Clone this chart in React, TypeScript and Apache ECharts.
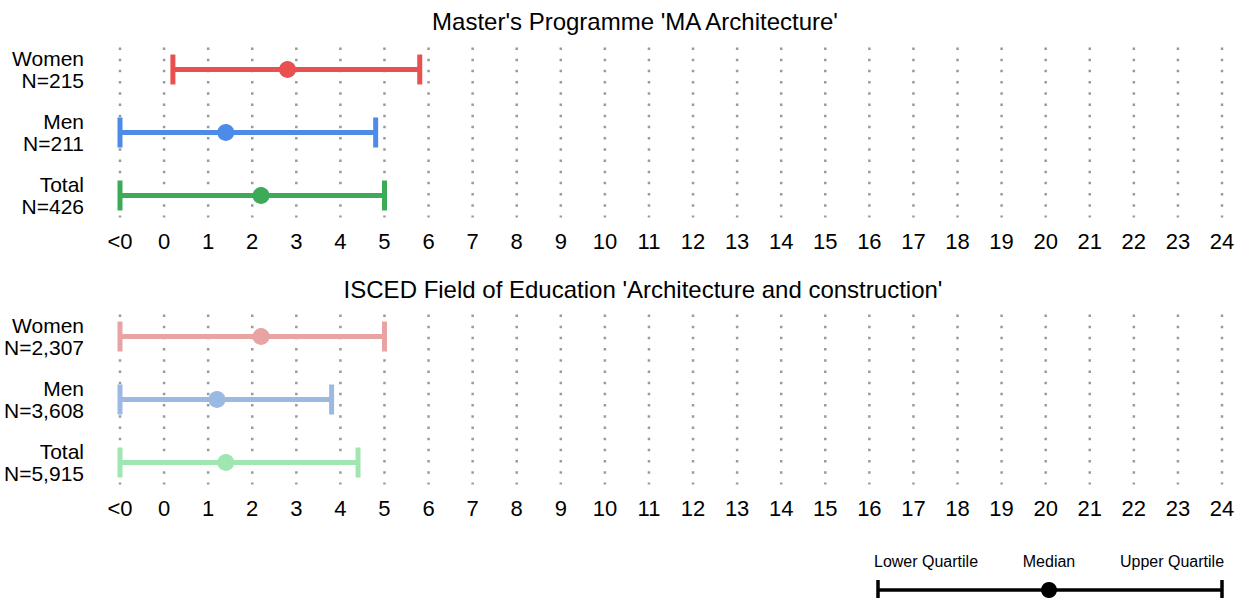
import React, { useEffect, useRef } from "react";
import * as echarts from "echarts";

const xTickValues = [-1, 0, 1, 2, 3, 4, 5, 6, 7, 8, 9, 10, 11, 12, 13, 14, 15, 16, 17, 18, 19, 20, 21, 22, 23, 24];
const xTickLabels = ["<0", "0", "1", "2", "3", "4", "5", "6", "7", "8", "9", "10", "11", "12", "13", "14", "15", "16", "17", "18", "19", "20", "21", "22", "23", "24"];

const title1 = "Master's Programme 'MA Architecture'";
const title2 = "ISCED Field of Education 'Architecture and construction'";

const groups1 = ["Women\nN=215", "Men\nN=211", "Total\nN=426"];
const lower1 = [0.2, -1, -1];
const median1 = [2.8, 1.4, 2.2];
const upper1 = [5.8, 4.8, 5.0];
const colors1 = ["#E8514F", "#4E8BE8", "#3CAA56"];

const groups2 = ["Women\nN=2,307", "Men\nN=3,608", "Total\nN=5,915"];
const lower2 = [-1, -1, -1];
const median2 = [2.2, 1.2, 1.4];
const upper2 = [5.0, 3.8, 4.4];
const colors2 = ["#E8A3A3", "#9BB9E3", "#A0E6B0"];

const legendLabels = ["Lower Quartile", "Median", "Upper Quartile"];

const FONT = "Liberation Sans, Arial, sans-serif";

function barData(lower: number[], median: number[], upper: number[], colors: string[]) {
  return lower.map((l, i) => ({ value: [i, l, median[i], upper[i]], itemStyle: { color: colors[i] } }));
}

const errorRender = (params: any, api: any) => {
  const y = api.value(0);
  const lo = api.coord([api.value(1), y]);
  const md = api.coord([api.value(2), y]);
  const hi = api.coord([api.value(3), y]);
  const color = api.visual("color");
  const capH = 15;
  return {
    type: "group",
    children: [
      { type: "line", shape: { x1: lo[0], y1: lo[1], x2: hi[0], y2: hi[1] }, style: { stroke: color, lineWidth: 5 } },
      { type: "line", shape: { x1: lo[0], y1: lo[1] - capH, x2: lo[0], y2: lo[1] + capH }, style: { stroke: color, lineWidth: 5 } },
      { type: "line", shape: { x1: hi[0], y1: hi[1] - capH, x2: hi[0], y2: hi[1] + capH }, style: { stroke: color, lineWidth: 5 } },
      { type: "circle", shape: { cx: md[0], cy: md[1], r: 8.5 }, style: { fill: color } },
    ],
  };
};

const gridRender = (params: any, api: any) => {
  const v = api.value(0);
  const p0 = api.coord([v, 0]);
  const p2 = api.coord([v, 2]);
  const ext = (p2[1] - p0[1]) * 0.175;
  return {
    type: "line",
    shape: { x1: p0[0], y1: p0[1] - ext, x2: p0[0], y2: p2[1] + ext },
    style: { stroke: "#9a9a9a", lineWidth: 2.5, lineDash: [2.5, 8.7] },
  };
};

export default function App() {
  const ref = useRef<HTMLDivElement>(null);
  useEffect(() => {
    document.body.style.margin = "0";
    const chart = echarts.init(ref.current!, null, { renderer: "svg" });
    const xAxisBase = (gridIndex: number) => ({
      type: "value",
      gridIndex,
      min: -1,
      max: 24,
      interval: 1,
      axisLine: { show: false },
      axisTick: { show: false },
      splitLine: { show: false },
      axisLabel: {
        margin: 3,
        fontSize: 22,
        color: "#000",
        fontFamily: FONT,
        formatter: (v: number) => xTickLabels[xTickValues.indexOf(Math.round(v))] ?? "",
      },
    });
    const yAxisBase = (gridIndex: number, cats: string[]) => ({
      type: "category",
      gridIndex,
      data: cats,
      inverse: true,
      axisLine: { show: false },
      axisTick: { show: false },
      splitLine: { show: false },
      axisLabel: {
        margin: 36,
        fontSize: 21,
        lineHeight: 22,
        color: "#000",
        fontFamily: FONT,
        align: "right",
      },
    });
    const lx1 = 878, lx2 = 1222, ly = 590;
    const lmid = 1049;
    const legendFont = `16px ${FONT}`;
    chart.setOption({
      animation: false,
      title: [
        { text: title1, left: 630, top: 4, textAlign: "center", textStyle: { fontSize: 24, fontWeight: "normal", color: "#000", fontFamily: FONT } },
        { text: title2, left: 638, top: 272, textAlign: "center", textStyle: { fontSize: 24, fontWeight: "normal", color: "#000", fontFamily: FONT } },
      ],
      grid: [
        { left: 120, right: 22, top: 38, height: 189 },
        { left: 120, right: 22, top: 305, height: 189 },
      ],
      xAxis: [xAxisBase(0), xAxisBase(1)],
      yAxis: [yAxisBase(0, groups1), yAxisBase(1, groups2)],
      series: [
        { type: "custom", xAxisIndex: 0, yAxisIndex: 0, data: xTickValues.map((v) => [v]), encode: { x: 0 }, renderItem: gridRender, silent: true, z: 1, clip: false },
        { type: "custom", xAxisIndex: 1, yAxisIndex: 1, data: xTickValues.map((v) => [v]), encode: { x: 0 }, renderItem: gridRender, silent: true, z: 1, clip: false },
        { type: "custom", xAxisIndex: 0, yAxisIndex: 0, data: barData(lower1, median1, upper1, colors1), encode: { x: [1, 2, 3], y: 0 }, renderItem: errorRender, z: 5, clip: false },
        { type: "custom", xAxisIndex: 1, yAxisIndex: 1, data: barData(lower2, median2, upper2, colors2), encode: { x: [1, 2, 3], y: 0 }, renderItem: errorRender, z: 5, clip: false },
      ],
      graphic: [
        { type: "text", x: 926, y: 561, style: { text: legendLabels[0], fill: "#000", font: legendFont, textAlign: "center", textVerticalAlign: "middle" } },
        { type: "text", x: lmid, y: 561, style: { text: legendLabels[1], fill: "#000", font: legendFont, textAlign: "center", textVerticalAlign: "middle" } },
        { type: "text", x: 1172, y: 561, style: { text: legendLabels[2], fill: "#000", font: legendFont, textAlign: "center", textVerticalAlign: "middle" } },
        { type: "line", shape: { x1: lx1, y1: ly, x2: lx2, y2: ly }, style: { stroke: "#000", lineWidth: 3.5 } },
        { type: "line", shape: { x1: lx1, y1: ly - 10, x2: lx1, y2: ly + 10 }, style: { stroke: "#000", lineWidth: 3.5 } },
        { type: "line", shape: { x1: lx2, y1: ly - 10, x2: lx2, y2: ly + 10 }, style: { stroke: "#000", lineWidth: 3.5 } },
        { type: "circle", shape: { cx: lmid, cy: ly, r: 8 }, style: { fill: "#000" } },
      ],
    });
    return () => chart.dispose();
  }, []);
  return <div ref={ref} style={{ width: 1244, height: 598 }} />;
}
